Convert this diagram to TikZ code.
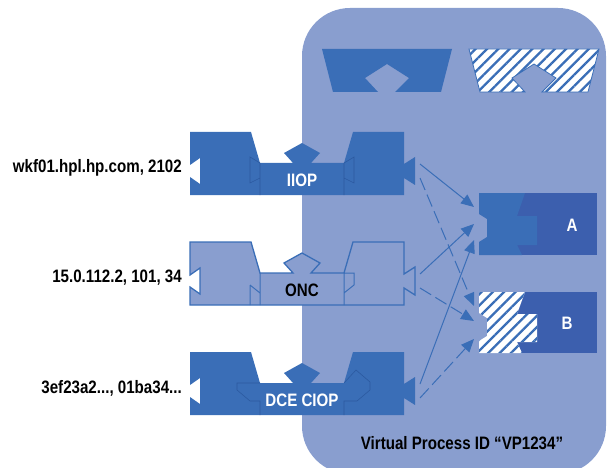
\documentclass[tikz,border=0pt]{standalone}
\usepackage{fontspec}
\setmainfont{Liberation Sans}[FakeStretch=0.84]
\usepackage{tikz}
\usetikzlibrary{arrows.meta,patterns.meta}
\definecolor{vpback}{RGB}{137,158,207}
\definecolor{orbblue}{RGB}{58,110,183}
\definecolor{objblue}{RGB}{60,95,174}
\definecolor{seamblue}{RGB}{44,90,160}
\tikzstyle{link} = [line width=1pt,draw=orbblue,-{Triangle[length=13pt,width=11pt]}]
\tikzstyle{link_dash} = [link,dash pattern=on 13pt off 5pt]
\tikzstyle{solid_part} = [fill=orbblue]
\tikzstyle{open_part} = [fill=vpback,draw=orbblue,line width=1.3pt]
\tikzstyle{hatched} = [fill=white,postaction={pattern={Lines[angle=45,distance=8pt,line width=2.3pt]},pattern color=orbblue}]
\tikzstyle{seam} = [draw=seamblue,line width=0.6pt]
\tikzstyle{txt} = [font=\fontsize{18}{21}\selectfont\bfseries,inner sep=0pt]
% outline of one protocol connector, top edge at y=0
\newcommand{\orbpath}{(190,0) -- (251,0) -- (260,31) -- (293,31) -- (284,21) -- (302,11) -- (320,21) -- (311,31) -- (344,31) -- (353,0) -- (404,0) -- (404,32) -- (415,25) -- (415,53) -- (404,46) -- (404,63) -- (190,63) -- (190,45) -- (200,52) -- (200,26) -- (190,33) -- cycle}

\begin{document}
\begin{tikzpicture}[x=1pt,y=-1pt]
    \useasboundingbox (0,0) rectangle (608,468);
    % virtual process
    \fill[vpback,rounded corners=48pt] (302,8) rectangle (606,474);
    \node[txt] (vp_name) at (462,443) {Virtual Process ID “VP1234”};

    % object adapters on top
    \fill[orbblue] (322,49) -- (452,49) -- (441,92) -- (395,92) -- (409,78) -- (387,64) -- (365,78) -- (378,92) -- (333,92) -- cycle;
    \path[hatched,draw=orbblue,line width=0.8pt] (469,49) -- (599,49) -- (588,92) -- (542,92) -- (556,78) -- (534,64) -- (512,78) -- (525,92) -- (480,92) -- cycle;

    % IIOP
    \begin{scope}[yshift=-132pt]
        \path[solid_part] \orbpath;
        \draw[seam] (260,31) -- (260,63) (344,31) -- (344,63) (260,31) -- (250,25) -- (250,51) -- (260,46) (344,31) -- (354,25) -- (354,51) -- (344,46);
        \node[txt,white] (iiop) at (302,48) {IIOP};
        \node[txt,anchor=east] (iiop_addr) at (182,36) {wkf01.hpl.hp.com, 2102};
        \coordinate (iiop_to_a) at (420,32);
        \coordinate (iiop_to_b) at (420,46);
    \end{scope}

    % ONC
    \begin{scope}[yshift=-242pt]
        \path[open_part] \orbpath;
        \draw[orbblue,line width=1pt] (260,31) -- (260,63) (250,43) -- (250,63) (250,43) -- (260,51) (344,31) -- (354,31) -- (354,43) -- (344,51) (344,31) -- (344,63);
        \node[txt] (onc) at (302,48) {ONC};
        \node[txt,anchor=east] (onc_addr) at (182,36) {15.0.112.2, 101, 34};
        \coordinate (onc_to_a) at (420,32);
        \coordinate (onc_to_b) at (420,46);
    \end{scope}

    % DCE CIOP
    \begin{scope}[yshift=-352pt]
        \path[solid_part] \orbpath;
        \draw[seam] (260,31) -- (237,31) -- (237,38) -- (250,49) -- (260,49) -- (260,63) (344,31) -- (356,18) -- (370,30) -- (370,38) -- (357,49) -- (344,49) -- (344,63);
        \node[txt,white] (dce) at (302,48) {DCE CIOP};
        \node[txt,anchor=east] (dce_addr) at (182,36) {3ef23a2..., 01ba34...};
        \coordinate (dce_to_a) at (420,32);
        \coordinate (dce_to_b) at (420,46);
    \end{scope}

    % object A
    \fill[objblue] (515,193) rectangle (597,255);
    \fill[orbblue] (479,193) -- (525,193) -- (517,216) -- (537,216) -- (537,245) -- (517,245) -- (522,255) -- (479,255) -- (479,242) -- (487,237) -- (487,219) -- (479,214) -- cycle;
    \node[txt,white] (obj_a) at (572,225) {A};
    \coordinate (a_in1) at (474,207);
    \coordinate (a_in2) at (474,224);
    \coordinate (a_in3) at (474,240);

    % object B
    \fill[objblue] (515,292) rectangle (597,353);
    \path[hatched] (479,292) -- (525,292) -- (517,314) -- (537,314) -- (537,342) -- (517,342) -- (522,353) -- (479,353) -- (479,341) -- (487,336) -- (487,318) -- (479,313) -- cycle;
    \node[txt,white] (obj_b) at (567,323) {B};
    \coordinate (b_in1) at (474,306);
    \coordinate (b_in2) at (474,321);
    \coordinate (b_in3) at (474,339);

    \draw[link] (iiop_to_a) -- (a_in1);
    \draw[link] (onc_to_a) -- (a_in2);
    \draw[link] (dce_to_a) -- (a_in3);
    \draw[link_dash] (iiop_to_b) -- (b_in1);
    \draw[link_dash] (onc_to_b) -- (b_in2);
    \draw[link_dash] (dce_to_b) -- (b_in3);
\end{tikzpicture}
\end{document}
